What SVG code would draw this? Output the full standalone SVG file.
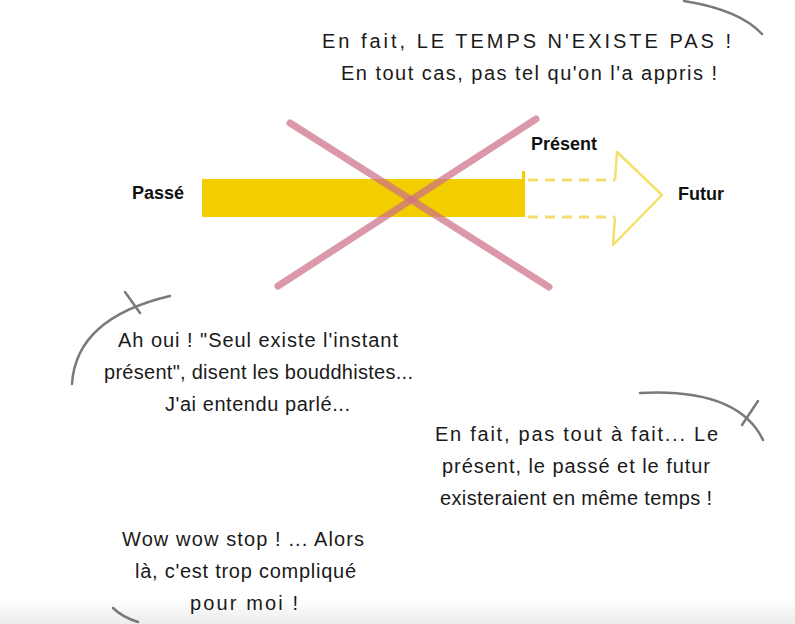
<svg xmlns="http://www.w3.org/2000/svg" width="795" height="624" viewBox="0 0 795 624">
<defs>
<linearGradient id="bottomFade" x1="0" y1="0" x2="0" y2="1">
<stop offset="0" stop-color="#ffffff"/>
<stop offset="1" stop-color="#ececec"/>
</linearGradient>
</defs>
<style>
.hand{font-family:"Liberation Sans","DejaVu Sans",sans-serif;font-size:20px;fill:#1a1a1a;}
.lbl{font-family:"Liberation Sans","DejaVu Sans",sans-serif;font-size:18px;font-weight:bold;fill:#111;}
.bub{fill:none;stroke:#7a7a7a;stroke-width:2.5;stroke-linecap:round;}
.dash{stroke:#F4DC72;stroke-width:3;stroke-dasharray:10 7;fill:none;}
.cross{stroke:#CC7088;stroke-width:7;stroke-linecap:round;opacity:0.72;fill:none;}
</style>
<rect x="0" y="0" width="795" height="624" fill="#ffffff"/>
<rect x="0" y="598" width="795" height="26" fill="url(#bottomFade)"/>

<g id="bubbles">
<path class="bub" d="M 684 1 Q 740 10 762 34"/>
<path class="bub" d="M 72 384 Q 76 318 170 296"/>
<path class="bub" d="M 125 292 L 140 313"/>
<path class="bub" d="M 640 393 Q 738 388 763 440"/>
<path class="bub" d="M 758 401 L 742 425"/>
<path class="bub" d="M 113 608 Q 122 617 138 622"/>
</g>

<g id="timeline">
<rect x="202" y="179" width="323" height="38" fill="#F2CD00"/>
<rect x="522" y="171" width="3" height="10" fill="#F2CD00"/>
<g id="connectors">
<line class="dash" x1="528" y1="180" x2="615" y2="180"/>
<line class="dash" x1="528" y1="217" x2="615" y2="217"/>
</g>
<path d="M 615 180 L 617 152 L 662 195 L 613 245 L 615 217" fill="none" stroke="#F4E06A" stroke-width="2.5" stroke-linejoin="round"/>
</g>

<g id="cross">
<line class="cross" x1="290" y1="123" x2="549" y2="287"/>
<line class="cross" x1="536" y1="119" x2="278" y2="286"/>
</g>

<g id="labels">
<text class="lbl" x="132" y="199">Passé</text>
<text class="lbl" x="531" y="150">Présent</text>
<text class="lbl" x="678" y="200">Futur</text>
</g>

<g id="text-top">
<text class="hand" x="322" y="48" textLength="409" lengthAdjust="spacing">En fait, LE TEMPS N'EXISTE PAS !</text>
<text class="hand" x="341" y="80" textLength="376" lengthAdjust="spacing">En tout cas, pas tel qu'on l'a appris !</text>
</g>
<g id="text-left">
<text class="hand" x="118" y="347" textLength="280" lengthAdjust="spacing">Ah oui ! "Seul existe l'instant</text>
<text class="hand" x="104" y="379" textLength="309" lengthAdjust="spacing">présent", disent les bouddhistes...</text>
<text class="hand" x="165" y="411" textLength="185" lengthAdjust="spacing">J'ai entendu parlé...</text>
</g>
<g id="text-right">
<text class="hand" x="435" y="441" textLength="283" lengthAdjust="spacing">En fait, pas tout à fait... Le</text>
<text class="hand" x="442" y="473" textLength="268" lengthAdjust="spacing">présent, le passé et le futur</text>
<text class="hand" x="440" y="505" textLength="272" lengthAdjust="spacing">existeraient en même temps !</text>
</g>
<g id="text-bottom">
<text class="hand" x="122" y="546" textLength="242" lengthAdjust="spacing">Wow wow stop ! ... Alors</text>
<text class="hand" x="135" y="578" textLength="221" lengthAdjust="spacing">là, c'est trop compliqué</text>
<text class="hand" x="190" y="610" textLength="108" lengthAdjust="spacing">pour moi !</text>
</g>
</svg>
